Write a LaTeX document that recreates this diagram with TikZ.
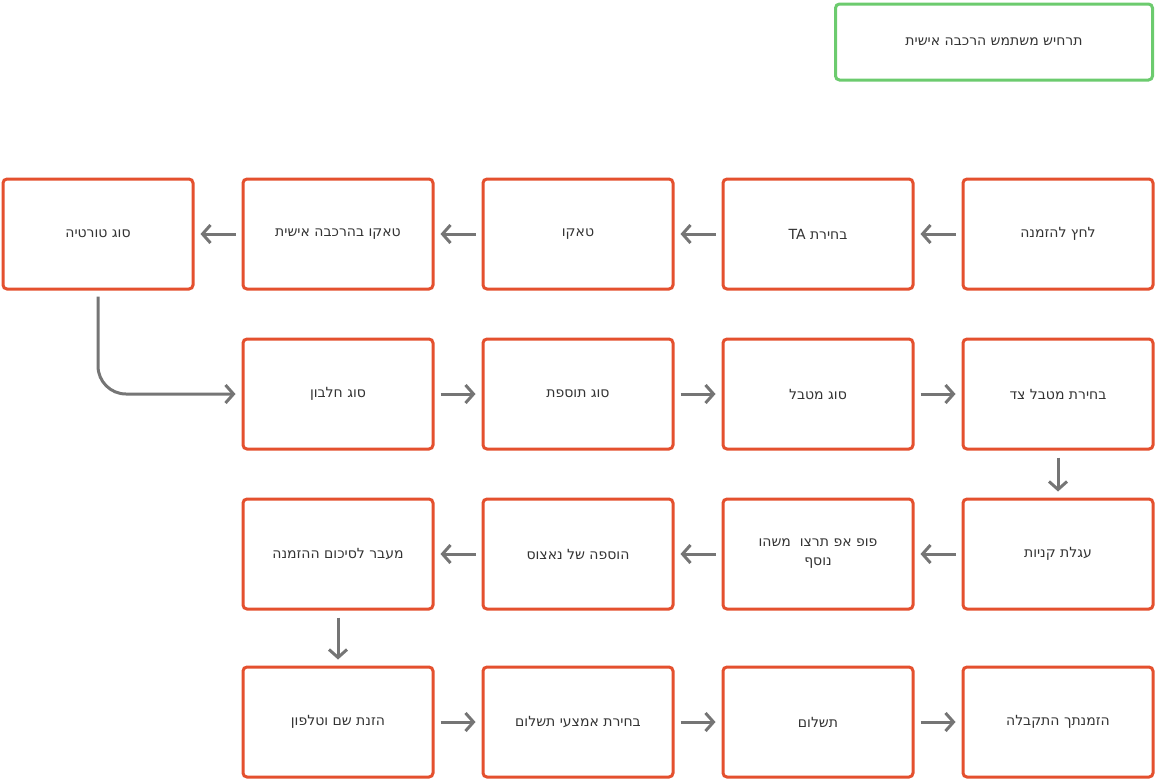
\documentclass[tikz,border=0pt]{standalone}
\usepackage{fontspec}
\setmainfont{DejaVu Sans}
\usetikzlibrary{arrows.meta}
\TeXXeTstate=1
\newcommand{\heb}[1]{\beginR#1\endR}
\definecolor{boxred}{HTML}{E4502E}
\definecolor{boxgreen}{HTML}{6CCB6E}
\definecolor{arr}{HTML}{757575}
\definecolor{txt}{HTML}{333333}
\begin{document}
\begin{tikzpicture}[x=1pt,y=-1pt,
  box/.style={draw=boxred,line width=3pt,rounded corners=4pt,minimum width=190pt,minimum height=110pt,align=center,text=txt,font=\fontsize{14}{19}\selectfont},
  gbox/.style={box,draw=boxgreen,minimum width=317pt,minimum height=76pt},
  ar/.style={draw=arr,line width=3pt,-{Straight Barb[length=8pt,width=18pt,line width=3pt]}}]
\useasboundingbox (0,0) rectangle (1156,780);
\node[gbox] (g) at (994,42) {\heb{תרחיש משתמש הרכבה אישית}};
\node[box] (r1e) at (1058,234) {\heb{לחץ להזמנה}};
\node[box] (r1d) at (818,234) {\heb{בחירת \beginL TA\endL}};
\node[box] (r1c) at (578,234) {\heb{טאקו}};
\node[box] (r1b) at (338,234) {\heb{טאקו בהרכבה אישית}};
\node[box] (r1a) at (98,234) {\heb{סוג טורטיה}};
\node[box] (r2b) at (338,394) {\heb{סוג חלבון}};
\node[box] (r2c) at (578,394) {\heb{סוג תוספת}};
\node[box] (r2d) at (818,394) {\heb{סוג מטבל}};
\node[box] (r2e) at (1058,394) {\heb{בחירת מטבל צד}};
\node[box] (r3e) at (1058,554) {\heb{עגלת קניות}};
\node[box] (r3d) at (818,554) {\heb{פופ אפ תרצו\ \ משהו}\\\heb{נוסף}};
\node[box] (r3c) at (578,554) {\heb{הוספה של נאצוס}};
\node[box] (r3b) at (338,554) {\heb{מעבר לסיכום ההזמנה}};
\node[box] (r4b) at (338,722) {\heb{הזנת שם וטלפון}};
\node[box] (r4c) at (578,722) {\heb{בחירת אמצעי תשלום}};
\node[box] (r4d) at (818,722) {\heb{תשלום}};
\node[box] (r4e) at (1058,722) {\heb{הזמנתך התקבלה}};
\foreach \s/\t in {r1e/r1d,r1d/r1c,r1c/r1b,r1b/r1a,r3e/r3d,r3d/r3c,r3c/r3b}
  \draw[ar] ([xshift=-6pt]\s.west) -- ([xshift=6pt]\t.east);
\foreach \s/\t in {r2b/r2c,r2c/r2d,r2d/r2e,r4b/r4c,r4c/r4d,r4d/r4e}
  \draw[ar] ([xshift=6pt]\s.east) -- ([xshift=-6pt]\t.west);
\draw[ar] ([yshift=-7pt]r2e.south) -- ([yshift=6pt]r3e.north);
\draw[ar] ([yshift=-7pt]r3b.south) -- ([yshift=6pt]r4b.north);
\draw[ar,rounded corners=28pt] ([yshift=-6pt]r1a.south) |- ([xshift=-6pt]r2b.west);
\end{tikzpicture}
\end{document}
